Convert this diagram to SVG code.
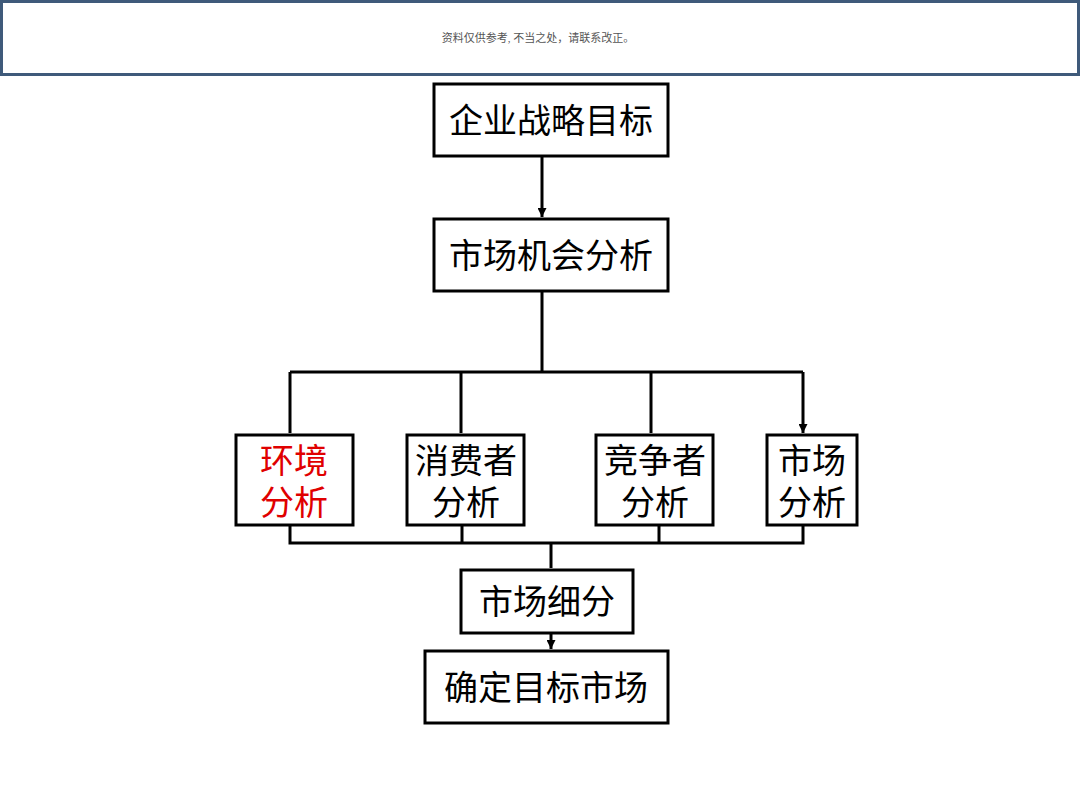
<svg xmlns="http://www.w3.org/2000/svg" width="1080" height="810" viewBox="0 0 1080 810">
<style>
.b{fill:#fff;stroke:#000;stroke-width:3}
.t{font-family:"Liberation Sans","Noto Sans CJK SC",sans-serif;font-size:34px;text-anchor:middle;fill:#000}
.c{stroke:#000;stroke-width:3;fill:none}
</style>
<defs><marker id="a" viewBox="0 0 10 10" refX="10" refY="5" markerWidth="3" markerHeight="3" orient="auto"><path d="M0,0L10,5L0,10z" fill="#000"/></marker></defs>
<rect width="1080" height="810" fill="#fff"/>
<g id="banner"><rect x="1.5" y="1.5" width="1077" height="73" fill="#fff" stroke="#3f5a7a" stroke-width="3"/>
<text x="538" y="42" font-family="Liberation Serif,'Noto Sans CJK SC',serif" font-size="11" fill="#555" text-anchor="middle">资料仅供参考, 不当之处，请联系改正。</text></g>
<g id="connectors" class="c">
<path d="M542,156V217" marker-end="url(#a)"/>
<path d="M542,291V372M290,372H803"/>
<path d="M290,372V433M461,372V433M651,372V433M803,372V433" marker-end="url(#a)"/>
<path d="M290,525V543H803V525M462,525V543M659,525V543"/>
<path d="M551,543V568M551,633V649" marker-end="url(#a)"/>
</g>
<g id="n1"><rect class="b" x="434" y="84" width="234" height="72"/><text class="t" x="551" y="133">企业战略目标</text></g>
<g id="n2"><rect class="b" x="434" y="219" width="234" height="72"/><text class="t" x="551" y="268">市场机会分析</text></g>
<g id="n3"><rect class="b" x="236" y="435" width="117" height="90"/><text class="t" x="294" y="473" fill="#e00000" style="fill:#e00000">环境</text><text class="t" x="294" y="515" style="fill:#e00000">分析</text></g>
<g id="n4"><rect class="b" x="407" y="435" width="117" height="90"/><text class="t" x="466" y="473">消费者</text><text class="t" x="466" y="515">分析</text></g>
<g id="n5"><rect class="b" x="596" y="435" width="117" height="90"/><text class="t" x="655" y="473">竞争者</text><text class="t" x="655" y="515">分析</text></g>
<g id="n6"><rect class="b" x="767" y="435" width="90" height="90"/><text class="t" x="812" y="473">市场</text><text class="t" x="812" y="515">分析</text></g>
<g id="n7"><rect class="b" x="461" y="570" width="172" height="63"/><text class="t" x="547" y="614">市场细分</text></g>
<g id="n8"><rect class="b" x="425" y="651" width="243" height="72"/><text class="t" x="546" y="700">确定目标市场</text></g>
</svg>
